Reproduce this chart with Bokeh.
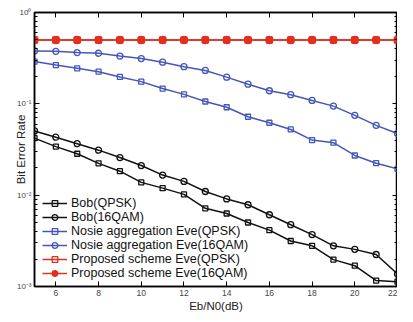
from bokeh.plotting import figure
from bokeh.models import (Range1d, LinearAxis, LogAxis, FixedTicker, LogTicker,
                          CustomJSTickFormatter, Legend, LegendItem)
from bokeh.embed import file_html
from bokeh.resources import INLINE

snr = [5, 6, 7, 8, 9, 10, 11, 12, 13, 14, 15, 16, 17, 18, 19, 20, 21, 22]
bob_qpsk = [0.0421, 0.0340, 0.0284, 0.0223, 0.0183, 0.0138, 0.01194, 0.0102, 0.00718,
            0.0063, 0.00502, 0.00414, 0.00315, 0.00279, 0.00197, 0.00169, 0.00116, 0.00113]
bob_16qam = [0.0505, 0.0431, 0.0366, 0.0311, 0.0258, 0.0211, 0.0166, 0.01415, 0.01097,
             0.0091, 0.00785, 0.0061, 0.00475, 0.0037, 0.00279, 0.00255, 0.00224, 0.00137]
na_eve_qpsk = [0.290, 0.266, 0.245, 0.225, 0.197, 0.175, 0.147, 0.127, 0.106,
               0.0918, 0.0722, 0.0621, 0.0524, 0.0401, 0.0376, 0.0272, 0.0224, 0.0194]
na_eve_16qam = [0.379, 0.376, 0.364, 0.358, 0.333, 0.313, 0.286, 0.255, 0.232,
                0.196, 0.164, 0.139, 0.126, 0.109, 0.0944, 0.0748, 0.0581, 0.0472]
ps_eve_qpsk = [0.5] * 18
ps_eve_16qam = [0.5] * 18

x_ticks = [6, 8, 10, 12, 14, 16, 18, 20, 22]
labels = ["Bob(QPSK)", "Bob(16QAM)", "Nosie aggregation Eve(QPSK)",
          "Nosie aggregation Eve(16QAM)", "Proposed scheme Eve(QPSK)",
          "Proposed scheme Eve(16QAM)"]
x_label = "Eb/N0(dB)"
y_label = "Bit Error Rate"

BLACK = "#111111"
BLUE = "#4556bb"
RED = "#e0301e"
FONT = "Liberation Sans"

X_MIN, X_MAX = 5, 22
p = figure(width=397, height=314, output_backend="svg", toolbar_location=None,
           x_range=Range1d(X_MIN, X_MAX), y_range=Range1d(1e-3, 1), y_axis_type="log",
           min_border_top=12, min_border_right=0, min_border_left=34, min_border_bottom=0)
p.background_fill_color = "white"
p.border_fill_color = "white"
p.outline_line_color = "black"
p.outline_line_width = 1.5
p.xgrid.visible = False
p.ygrid.visible = False

fmt = CustomJSTickFormatter(code="""
const e = Math.round(Math.log10(tick));
const sup = {"-":"\u207b","0":"\u2070","1":"\u00b9","2":"\u00b2","3":"\u00b3"};
return "10" + String(e).split("").map(c => sup[c]).join("");
""")
blank = CustomJSTickFormatter(code="return '';")

def style(ax):
    ax.axis_line_color = "black"
    ax.axis_line_width = 1.5
    ax.major_tick_in = 5
    ax.major_tick_out = 0
    ax.minor_tick_in = 3
    ax.minor_tick_out = 0
    ax.major_tick_line_color = "black"
    ax.minor_tick_line_color = "black"
    ax.major_label_text_font = FONT
    ax.major_label_text_color = "#444444"
    ax.major_label_text_font_size = "9px"
    ax.axis_label_text_font = FONT
    ax.axis_label_text_font_style = "normal"
    ax.axis_label_text_color = "#222222"

xa = p.xaxis[0]
xa.ticker = FixedTicker(ticks=x_ticks)
style(xa)
xa.minor_tick_in = 0
xa.major_label_text_font_size = "8.5px"
xa.major_label_standoff = 3
xa.axis_label = x_label
xa.axis_label_text_font_size = "11.5px"
xa.axis_label_standoff = 1

ya = p.yaxis[0]
ya.ticker = LogTicker(num_minor_ticks=10)
ya.formatter = fmt
style(ya)
ya.major_label_text_font_size = "8px"
ya.major_label_standoff = 3
ya.axis_label = y_label
ya.axis_label_text_font_size = "11.5px"
ya.axis_label_standoff = -13

top = LinearAxis(ticker=FixedTicker(ticks=x_ticks), formatter=blank)
style(top)
top.minor_tick_in = 0
top.major_label_standoff = 0
p.add_layout(top, "above")
right = LogAxis(ticker=LogTicker(num_minor_ticks=10), formatter=blank)
style(right)
right.major_label_standoff = 0
p.add_layout(right, "right")

series = [
    (bob_qpsk, BLACK, "square", None, 5),
    (bob_16qam, BLACK, "circle", None, 6),
    (na_eve_qpsk, BLUE, "square", None, 5),
    (na_eve_16qam, BLUE, "circle", None, 6),
    (ps_eve_qpsk, RED, "square", None, 6),
    (ps_eve_16qam, RED, "circle", RED, 7),
]

items = []
for (vals, col, mk, fill, sz), lab in zip(series, labels):
    l = p.line(snr, vals, line_color=col, line_width=1.5)
    s = p.scatter(snr, vals, marker=mk, size=sz, line_color=col, line_width=1.3,
                  fill_color=fill)
    items.append(LegendItem(label=lab, renderers=[l, s]))

leg = Legend(items=items, location=(8, 6))
leg.label_text_font = FONT
leg.label_text_font_size = "12.5px"
leg.label_text_color = "#111111"
leg.glyph_width = 25
leg.glyph_height = 14
leg.label_height = 14
leg.label_standoff = 4
leg.spacing = 0
leg.padding = 2
leg.margin = 0
leg.border_line_color = None
leg.background_fill_alpha = 0
p.add_layout(leg, "center")

open("out.html", "w").write(file_html(p, INLINE))
